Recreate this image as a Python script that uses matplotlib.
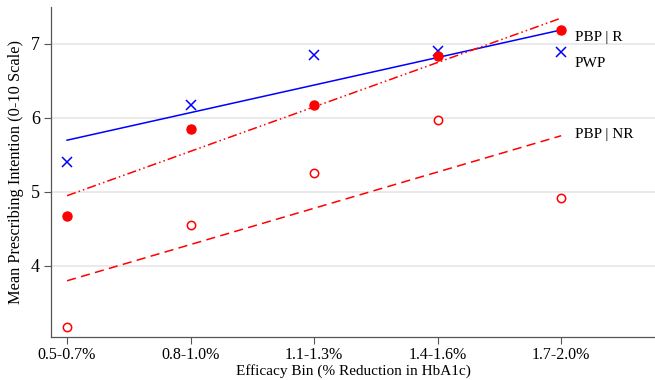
import matplotlib.pyplot as plt
import numpy as np

plt.rcParams['font.family'] = ['Liberation Serif', 'DejaVu Serif']

# data
bins = ["0.5-0.7%", "0.8-1.0%", "1.1-1.3%", "1.4-1.6%", "1.7-2.0%"]
pwp = [5.40, 6.17, 6.85, 6.91, 6.89]
pbp_r = [4.67, 5.85, 6.18, 6.84, 7.19]
pbp_nr = [3.18, 4.55, 5.26, 5.97, 4.92]
# fitted lines (start, end)
fit_pwp = [5.70, 7.19]
fit_r = [4.95, 7.35]
fit_nr = [3.80, 5.76]

x = np.arange(len(bins))

fig = plt.figure(figsize=(6.55, 3.8), dpi=100)
ax = fig.add_axes([51/655, 43/380, 1 - 51/655, (337 - 7)/380])

for yv in [4, 5, 6, 7]:
    ax.axhline(yv, color='#e6e6e6', linewidth=1.2, zorder=0)

ends = [x[0], x[-1]]
ax.plot(ends, fit_pwp, color='blue', linewidth=1.1, zorder=2)
ax.plot(ends, fit_r, color='red', linewidth=1.1, dashes=(6, 2, 1, 2, 1, 2), zorder=2)
ax.plot(ends, fit_nr, color='red', linewidth=1.1, dashes=(6, 3.5), zorder=2)

ax.plot(x, pwp, 'x', color='blue', markersize=7, markeredgewidth=1.1, zorder=3)
ax.plot(x, pbp_r, 'o', color='red', markersize=6.5, zorder=3)
ax.plot(x, pbp_nr, 'o', markerfacecolor='white', markeredgecolor='red',
        markersize=6, markeredgewidth=1.1, zorder=3)

ax.text(4.11, 7.09, "PBP | R", fontsize=11, va='center', ha='left')
ax.text(4.11, 6.73, "PWP", fontsize=11, va='center', ha='left')
ax.text(4.11, 5.78, "PBP | NR", fontsize=11, va='center', ha='left')

ax.set_xlim(-0.13, 4.76)
ax.set_ylim(3.04, 7.5)
ax.set_xticks(x)
ax.set_xticklabels(bins, fontsize=11.5)
ax.set_yticks([4, 5, 6, 7])
ax.set_yticklabels(['4', '5', '6', '7'], fontsize=13)
ax.tick_params(color='#555555', length=5, width=0.8)
ax.tick_params(axis='x', pad=2)
ax.tick_params(axis='y', pad=3)
ax.set_xlabel("Efficacy Bin (% Reduction in HbA1c)", fontsize=11, labelpad=1)
ax.set_ylabel("Mean Prescribing Intention (0-10 Scale)", fontsize=11.8, labelpad=5)

for s in ['top', 'right']:
    ax.spines[s].set_visible(False)
for s in ['left', 'bottom']:
    ax.spines[s].set_color('#555555')
    ax.spines[s].set_linewidth(0.9)

fig.savefig("out.png", dpi=100)
